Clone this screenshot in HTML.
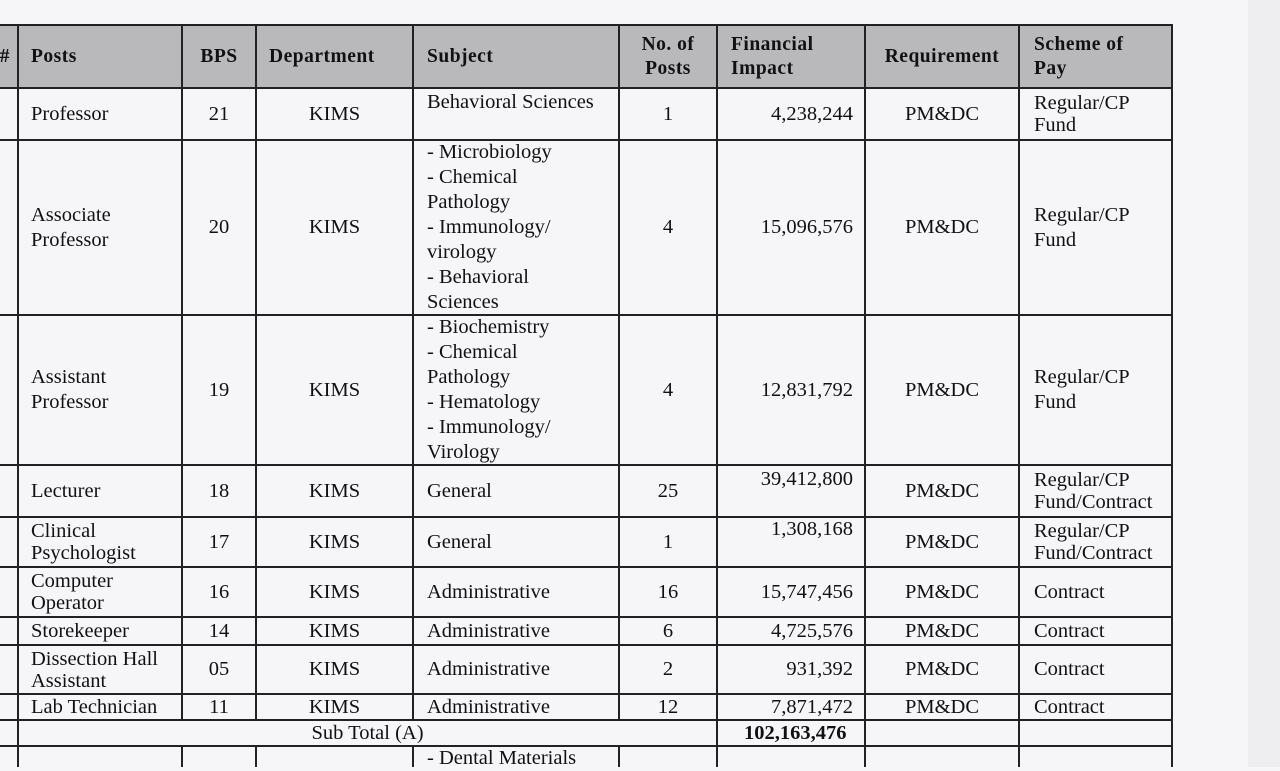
<!DOCTYPE html>
<html><head><meta charset="utf-8"><style>
body{margin:0;width:1280px;height:767px;overflow:hidden;background:#f6f6f9;font-family:"Liberation Serif","Times New Roman",serif;color:#111;position:relative}
.strip{position:absolute;left:1248px;top:0;width:32px;height:767px;background:#eeeef1}
.h{position:absolute;height:2px;background:#222}
.v{position:absolute;width:2px;background:#222}
.c{position:absolute;display:flex;align-items:center;font-size:20.5px;line-height:25px;white-space:nowrap}
.ct{justify-content:center;text-align:center}
.r{justify-content:flex-end;text-align:right}
.b{font-weight:bold;font-size:19.5px;letter-spacing:0.5px}
.t{line-height:22px}
.hd{position:absolute;left:0;top:25px;width:1172px;height:63px;background:#b9b9bc}
</style></head><body>
<div class="strip"></div>
<div class="hd"></div>
<div class="h" style="left:0;width:1173px;top:24px"></div>
<div class="h" style="left:0;width:1173px;top:87px"></div>
<div class="h" style="left:0;width:1173px;top:139px"></div>
<div class="h" style="left:0;width:1173px;top:314px"></div>
<div class="h" style="left:0;width:1173px;top:464px"></div>
<div class="h" style="left:0;width:1173px;top:516px"></div>
<div class="h" style="left:0;width:1173px;top:566px"></div>
<div class="h" style="left:0;width:1173px;top:616px"></div>
<div class="h" style="left:0;width:1173px;top:644px"></div>
<div class="h" style="left:0;width:1173px;top:693px"></div>
<div class="h" style="left:0;width:1173px;top:719px"></div>
<div class="h" style="left:0;width:1173px;top:745px"></div>
<div class="v" style="left:17px;top:24px;height:743px"></div>
<div class="v" style="left:181px;top:24px;height:696px"></div>
<div class="v" style="left:181px;top:745px;height:22px"></div>
<div class="v" style="left:255px;top:24px;height:696px"></div>
<div class="v" style="left:255px;top:745px;height:22px"></div>
<div class="v" style="left:412px;top:24px;height:696px"></div>
<div class="v" style="left:412px;top:745px;height:22px"></div>
<div class="v" style="left:618px;top:24px;height:696px"></div>
<div class="v" style="left:618px;top:745px;height:22px"></div>
<div class="v" style="left:716px;top:24px;height:743px"></div>
<div class="v" style="left:864px;top:24px;height:743px"></div>
<div class="v" style="left:1018px;top:24px;height:743px"></div>
<div class="v" style="left:1171px;top:24px;height:743px"></div>

<div class="c b" style="left:0;top:26px;width:10px;height:61px;justify-content:flex-end;overflow:hidden">#</div>
<div class="c b" style="left:31px;top:26px;width:150px;height:61px">Posts</div>
<div class="c b ct" style="left:183px;top:26px;width:72px;height:61px">BPS</div>
<div class="c b" style="left:269px;top:26px;width:143px;height:61px">Department</div>
<div class="c b" style="left:427px;top:26px;width:190px;height:61px">Subject</div>
<div class="c b ct" style="left:620px;top:26px;width:96px;height:61px;line-height:24px">No. of<br>Posts</div>
<div class="c b" style="left:731px;top:26px;width:133px;height:61px;line-height:24px">Financial<br>Impact</div>
<div class="c b ct" style="left:866px;top:26px;width:152px;height:61px">Requirement</div>
<div class="c b" style="left:1034px;top:26px;width:137px;height:61px;line-height:24px">Scheme of<br>Pay</div>

<div class="c" style="left:31px;top:89px;width:150px;height:50px">Professor</div>
<div class="c ct" style="left:183px;top:89px;width:72px;height:50px">21</div>
<div class="c ct" style="left:257px;top:89px;width:155px;height:50px">KIMS</div>
<div class="c" style="left:427px;top:89px;width:190px;height:26px">Behavioral Sciences</div>
<div class="c ct" style="left:620px;top:89px;width:96px;height:50px">1</div>
<div class="c r" style="left:718px;top:89px;width:135px;height:50px">4,238,244</div>
<div class="c ct" style="left:866px;top:89px;width:152px;height:50px">PM&amp;DC</div>
<div class="c t" style="left:1034px;top:89px;width:137px;height:50px">Regular/CP<br>Fund</div>

<div class="c" style="left:31px;top:141px;width:150px;height:173px">Associate<br>Professor</div>
<div class="c ct" style="left:183px;top:141px;width:72px;height:173px">20</div>
<div class="c ct" style="left:257px;top:141px;width:155px;height:173px">KIMS</div>
<div class="c" style="left:427px;top:140px;width:190px;height:175px">- Microbiology<br>- Chemical<br>Pathology<br>- Immunology/<br>virology<br>- Behavioral<br>Sciences</div>
<div class="c ct" style="left:620px;top:141px;width:96px;height:173px">4</div>
<div class="c r" style="left:718px;top:141px;width:135px;height:173px">15,096,576</div>
<div class="c ct" style="left:866px;top:141px;width:152px;height:173px">PM&amp;DC</div>
<div class="c" style="left:1034px;top:141px;width:137px;height:173px">Regular/CP<br>Fund</div>

<div class="c" style="left:31px;top:316px;width:150px;height:148px">Assistant<br>Professor</div>
<div class="c ct" style="left:183px;top:316px;width:72px;height:148px">19</div>
<div class="c ct" style="left:257px;top:316px;width:155px;height:148px">KIMS</div>
<div class="c" style="left:427px;top:315px;width:190px;height:150px">- Biochemistry<br>- Chemical<br>Pathology<br>- Hematology<br>- Immunology/<br>Virology</div>
<div class="c ct" style="left:620px;top:316px;width:96px;height:148px">4</div>
<div class="c r" style="left:718px;top:316px;width:135px;height:148px">12,831,792</div>
<div class="c ct" style="left:866px;top:316px;width:152px;height:148px">PM&amp;DC</div>
<div class="c" style="left:1034px;top:316px;width:137px;height:148px">Regular/CP<br>Fund</div>

<div class="c" style="left:31px;top:466px;width:150px;height:50px">Lecturer</div>
<div class="c ct" style="left:183px;top:466px;width:72px;height:50px">18</div>
<div class="c ct" style="left:257px;top:466px;width:155px;height:50px">KIMS</div>
<div class="c" style="left:427px;top:466px;width:190px;height:50px">General</div>
<div class="c ct" style="left:620px;top:466px;width:96px;height:50px">25</div>
<div class="c r" style="left:718px;top:466px;width:135px;height:26px">39,412,800</div>
<div class="c ct" style="left:866px;top:466px;width:152px;height:50px">PM&amp;DC</div>
<div class="c t" style="left:1034px;top:466px;width:137px;height:50px">Regular/CP<br>Fund/Contract</div>

<div class="c t" style="left:31px;top:518px;width:150px;height:48px">Clinical<br>Psychologist</div>
<div class="c ct" style="left:183px;top:518px;width:72px;height:48px">17</div>
<div class="c ct" style="left:257px;top:518px;width:155px;height:48px">KIMS</div>
<div class="c" style="left:427px;top:518px;width:190px;height:48px">General</div>
<div class="c ct" style="left:620px;top:518px;width:96px;height:48px">1</div>
<div class="c r" style="left:718px;top:516px;width:135px;height:26px">1,308,168</div>
<div class="c ct" style="left:866px;top:518px;width:152px;height:48px">PM&amp;DC</div>
<div class="c t" style="left:1034px;top:518px;width:137px;height:48px">Regular/CP<br>Fund/Contract</div>

<div class="c t" style="left:31px;top:568px;width:150px;height:48px">Computer<br>Operator</div>
<div class="c ct" style="left:183px;top:568px;width:72px;height:48px">16</div>
<div class="c ct" style="left:257px;top:568px;width:155px;height:48px">KIMS</div>
<div class="c" style="left:427px;top:568px;width:190px;height:48px">Administrative</div>
<div class="c ct" style="left:620px;top:568px;width:96px;height:48px">16</div>
<div class="c r" style="left:718px;top:568px;width:135px;height:48px">15,747,456</div>
<div class="c ct" style="left:866px;top:568px;width:152px;height:48px">PM&amp;DC</div>
<div class="c" style="left:1034px;top:568px;width:137px;height:48px">Contract</div>

<div class="c" style="left:31px;top:618px;width:150px;height:26px">Storekeeper</div>
<div class="c ct" style="left:183px;top:618px;width:72px;height:26px">14</div>
<div class="c ct" style="left:257px;top:618px;width:155px;height:26px">KIMS</div>
<div class="c" style="left:427px;top:618px;width:190px;height:26px">Administrative</div>
<div class="c ct" style="left:620px;top:618px;width:96px;height:26px">6</div>
<div class="c r" style="left:718px;top:618px;width:135px;height:26px">4,725,576</div>
<div class="c ct" style="left:866px;top:618px;width:152px;height:26px">PM&amp;DC</div>
<div class="c" style="left:1034px;top:618px;width:137px;height:26px">Contract</div>

<div class="c t" style="left:31px;top:646px;width:150px;height:47px">Dissection Hall<br>Assistant</div>
<div class="c ct" style="left:183px;top:646px;width:72px;height:47px">05</div>
<div class="c ct" style="left:257px;top:646px;width:155px;height:47px">KIMS</div>
<div class="c" style="left:427px;top:646px;width:190px;height:47px">Administrative</div>
<div class="c ct" style="left:620px;top:646px;width:96px;height:47px">2</div>
<div class="c r" style="left:718px;top:646px;width:135px;height:47px">931,392</div>
<div class="c ct" style="left:866px;top:646px;width:152px;height:47px">PM&amp;DC</div>
<div class="c" style="left:1034px;top:646px;width:137px;height:47px">Contract</div>

<div class="c" style="left:31px;top:695px;width:150px;height:24px">Lab Technician</div>
<div class="c ct" style="left:183px;top:695px;width:72px;height:24px">11</div>
<div class="c ct" style="left:257px;top:695px;width:155px;height:24px">KIMS</div>
<div class="c" style="left:427px;top:695px;width:190px;height:24px">Administrative</div>
<div class="c ct" style="left:620px;top:695px;width:96px;height:24px">12</div>
<div class="c r" style="left:718px;top:695px;width:135px;height:24px">7,871,472</div>
<div class="c ct" style="left:866px;top:695px;width:152px;height:24px">PM&amp;DC</div>
<div class="c" style="left:1034px;top:695px;width:137px;height:24px">Contract</div>

<div class="c ct" style="left:19px;top:721px;width:697px;height:24px">Sub Total (A)</div>
<div class="c" style="left:744px;top:721px;width:120px;height:24px;font-weight:bold">102,163,476</div>

<div class="c" style="left:427px;top:746px;width:190px;height:24px">- Dental Materials</div>
</body></html>
